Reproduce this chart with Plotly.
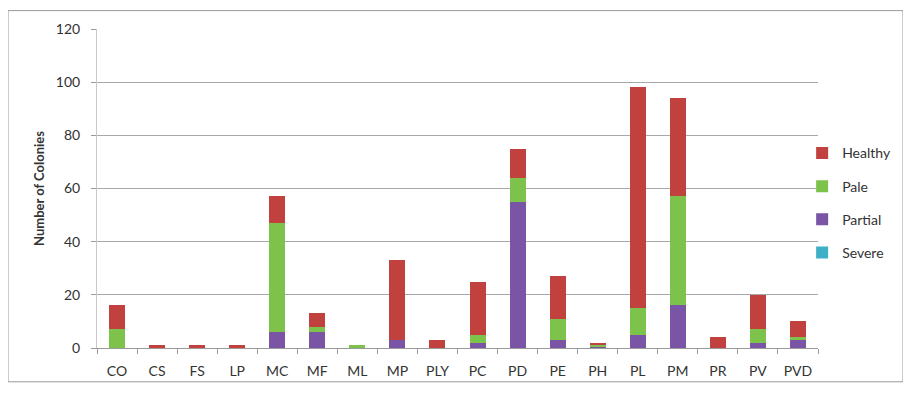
import plotly.graph_objects as go

# sites along the x axis
sites = ['CO', 'CS', 'FS', 'LP', 'MC', 'MF', 'ML', 'MP', 'PLY', 'PC',
         'PD', 'PE', 'PH', 'PL', 'PM', 'PR', 'PV', 'PVD']

# colony counts per condition (stacked bottom to top: Severe, Partial, Pale, Healthy)
severe = [0, 0, 0, 0, 0, 0, 0, 0, 0, 0, 0, 0, 0, 0, 0, 0, 0, 0]
partial = [0, 0, 0, 0, 6, 6, 0, 3, 0, 2, 55, 3, 0.5, 5, 16, 0, 2, 3]
pale = [7, 0, 0, 0, 41, 2, 1, 0, 0, 3, 9, 8, 0.5, 10, 41, 0, 5, 1]
healthy = [9, 1, 1, 1, 10, 5, 0, 30, 3, 20, 11, 16, 1, 83, 37, 4, 13, 6]

font_name = 'Lato, Open Sans, sans-serif'

# the page body has an 8px margin, so the figure is a bit smaller than the window
fig = go.Figure(
    layout=dict(
        width=903, height=385,
        paper_bgcolor='#fff',
        plot_bgcolor='#fff',
        barmode='stack',
        bargap=0.6,
        margin=dict(l=89, r=93, t=19, b=45),
        font=dict(family=font_name, size=14, color='#333'),
        xaxis=dict(
            type='category',
            showgrid=False,
            showline=True, linecolor='#9a9a9a', linewidth=1,
            ticks='outside', tickson='boundaries', ticklen=5, tickcolor='#9a9a9a',
            ticklabelstandoff=10,
            tickfont=dict(size=14, color='#333'),
        ),
        yaxis=dict(
            range=[0, 120], dtick=20,
            showgrid=True, gridcolor='#a8a8a8', gridwidth=1,
            showline=True, linecolor='#c8c8c8', linewidth=1,
            ticks='outside', ticklen=5, tickcolor='#9a9a9a',
            ticklabelstandoff=8,
            zeroline=False,
            tickfont=dict(size=14, color='#333'),
            title=dict(text='<b>Number of Colonies</b>', font=dict(size=13, color='#333'),
                       standoff=8),
        ),
        # legend kept inside the right margin so it doesn't shrink the plot
        legend=dict(
            x=0.978, y=0.455, xanchor='left', yanchor='middle',
            traceorder='grouped', bgcolor='rgba(0,0,0,0)',
            font=dict(size=14, color='#333'),
            itemwidth=30, tracegroupgap=12,
        ),
    )
)

# add the stacked bars, legend shows Healthy on top
for name, vals, col, rank in [('Severe', severe, '#3fafc8', 4),
                              ('Partial', partial, '#7a55a6', 3),
                              ('Pale', pale, '#7dc24a', 2),
                              ('Healthy', healthy, '#c0413e', 1)]:
    fig.add_trace(go.Bar(x=sites, y=vals, name=name, marker=dict(color=col, line=dict(width=0)),
                         legendgroup=name, legendrank=rank))

# thin frame around the whole chart
fig.add_shape(type='rect', xref='paper', yref='paper',
              x0=-89 / 721, x1=(895 - 89) / 721, y0=-34 / 321, y1=(340 - 0.5) / 321,
              line=dict(color='#9a9a9a', width=1))

fig.write_html('out.html')
